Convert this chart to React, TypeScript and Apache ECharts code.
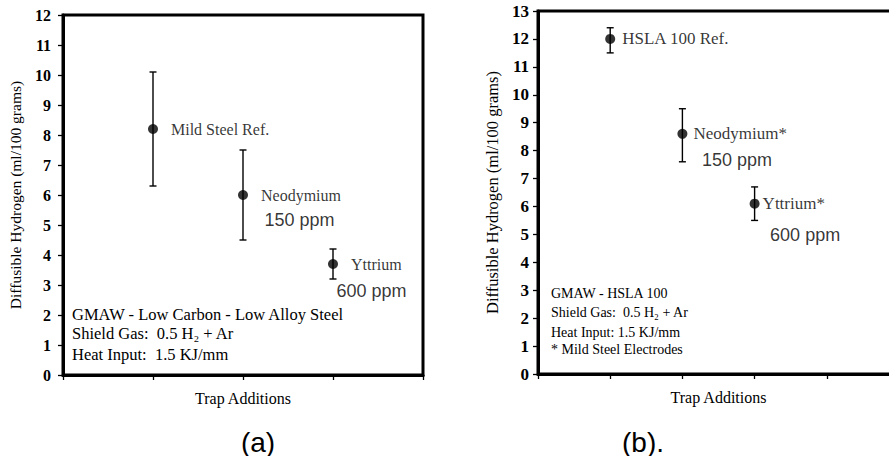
import React, { useEffect, useRef } from "react";
import * as echarts from "echarts";

// Panel (a): GMAW, low carbon - low alloy steel
const namesA = ["Mild Steel Ref.", "Neodymium", "Yttrium"];
const xA = [1, 2, 3];
const meanA = [8.2, 6.0, 3.7];
const lowA = [6.3, 4.5, 3.2];
const highA = [10.1, 7.5, 4.2];
const ppmA = ["", "150 ppm", "600 ppm"];
const notesA = [
  "GMAW - Low Carbon - Low Alloy Steel",
  "Shield Gas:  0.5 H\u2082 + Ar",
  "Heat Input:  1.5 KJ/mm",
];

// Panel (b): GMAW, HSLA 100
const namesB = ["HSLA 100 Ref.", "Neodymium*", "Yttrium*"];
const xB = [1, 2, 3];
const meanB = [12.0, 8.6, 6.1];
const lowB = [11.5, 7.6, 5.5];
const highB = [12.4, 9.5, 6.7];
const ppmB = ["", "150 ppm", "600 ppm"];
const notesB = [
  "GMAW - HSLA 100",
  "Shield Gas:  0.5 H\u2082 + Ar",
  "Heat Input: 1.5 KJ/mm",
  "* Mild Steel Electrodes",
];

const yTitle = "Diffusible Hydrogen (ml/100 grams)";
const xTitle = "Trap Additions";
const panelTags = ["(a)", "(b)."];

const SERIF = "Liberation Serif";
const SANS = "Liberation Sans";

// label gaps (px) between marker edge and name, and ppm offsets
const nameDistA = [13, 13, 13];
const nameDistB = [7, 6, 3];
const ppmOffA = [[0, 0], [22, 25], [4, 27]];
const ppmOffB = [[0, 0], [20, 27], [16, 32]];

function errorBarSeries(gridIdx: number, xs: number[], lows: number[], highs: number[]) {
  return {
    type: "custom",
    xAxisIndex: gridIdx,
    yAxisIndex: gridIdx,
    silent: true,
    data: xs.map((x, i) => [x, lows[i], highs[i]]),
    renderItem: (_p: any, api: any) => {
      const lo = api.coord([api.value(0), api.value(1)]);
      const hi = api.coord([api.value(0), api.value(2)]);
      const cap = 3.5;
      const style = { stroke: "#000", lineWidth: 1.4 };
      return {
        type: "group",
        children: [
          { type: "line", shape: { x1: lo[0], y1: lo[1], x2: hi[0], y2: hi[1] }, style },
          { type: "line", shape: { x1: hi[0] - cap, y1: hi[1], x2: hi[0] + cap, y2: hi[1] }, style },
          { type: "line", shape: { x1: lo[0] - cap, y1: lo[1], x2: lo[0] + cap, y2: lo[1] }, style },
        ],
      };
    },
    z: 3,
  };
}

function pointSeries(gridIdx: number, xs: number[], means: number[], names: string[], dists: number[], fontSize: number) {
  return {
    type: "scatter",
    xAxisIndex: gridIdx,
    yAxisIndex: gridIdx,
    symbol: "circle",
    symbolSize: 10,
    itemStyle: { color: "#000" },
    data: xs.map((x, i) => ({
      value: [x, means[i]],
      label: {
        show: true,
        position: "right",
        distance: dists[i],
        formatter: names[i],
        color: "#000",
        fontFamily: SERIF,
        fontSize,
      },
    })),
    z: 4,
  };
}

function ppmSeries(gridIdx: number, xs: number[], means: number[], ppm: string[], offs: number[][]) {
  const data: any[] = [];
  xs.forEach((x, i) => {
    if (!ppm[i]) return;
    data.push({
      value: [x, means[i]],
      label: {
        show: true,
        position: [offs[i][0], offs[i][1]],
        align: "left",
        verticalAlign: "middle",
        formatter: ppm[i],
        color: "#000",
        fontFamily: SANS,
        fontSize: 18,
      },
    });
  });
  return {
    type: "scatter",
    xAxisIndex: gridIdx,
    yAxisIndex: gridIdx,
    symbol: "circle",
    symbolSize: 1,
    itemStyle: { color: "transparent" },
    silent: true,
    data,
    z: 4,
  };
}

function xAxisCfg(gridIdx: number, max: number) {
  return {
    type: "value",
    gridIndex: gridIdx,
    min: 0,
    max,
    interval: 1,
    axisLine: { show: true, lineStyle: { color: "#000", width: 3 } },
    axisTick: { show: true, inside: false, length: 5, lineStyle: { color: "#000", width: 1.3 } },
    axisLabel: { show: false },
    splitLine: { show: false },
    name: xTitle,
    nameLocation: "middle",
    nameGap: 15,
    nameTextStyle: { color: "#000", fontFamily: SERIF, fontSize: 16 },
  };
}

function yAxisCfg(gridIdx: number, max: number, gap: number, labelMargin: number, labelSize: number, nameSize: number) {
  return {
    type: "value",
    gridIndex: gridIdx,
    min: 0,
    max,
    interval: 1,
    axisLine: { show: true, lineStyle: { color: "#000", width: 3 } },
    axisTick: { show: true, inside: false, length: 5, lineStyle: { color: "#000", width: 1.3 } },
    axisLabel: {
      show: true,
      margin: labelMargin,
      color: "#000",
      fontFamily: SERIF,
      fontWeight: "bold",
      fontSize: labelSize,
    },
    splitLine: { show: false },
    name: yTitle,
    nameLocation: "middle",
    nameGap: gap,
    nameRotate: 90,
    nameTextStyle: { color: "#000", fontFamily: SERIF, fontSize: nameSize },
  };
}

function noteTexts(lines: string[], x: number, ys: number[], fontSize: number) {
  return lines.map((t, i) => ({
    type: "text",
    left: x,
    top: ys[i] - fontSize / 2 - 1,
    style: { text: t, fill: "#000", font: `${fontSize}px ${SERIF}` },
    z: 10,
  }));
}

export default function App() {
  const ref = useRef<HTMLDivElement>(null);

  useEffect(() => {
    if (!ref.current) return;
    const chart = echarts.init(ref.current, null, { renderer: "svg" });
    chart.setOption({
      animation: false,
      backgroundColor: "#fff",
      textStyle: { fontFamily: SERIF },
      grid: [
        { left: 63, top: 15, width: 360, height: 360, show: true, borderColor: "#000", borderWidth: 3, backgroundColor: "transparent" },
        { left: 538, top: 11, width: 361, height: 363, show: true, borderColor: "#000", borderWidth: 3, backgroundColor: "transparent" },
      ],
      xAxis: [xAxisCfg(0, 4), xAxisCfg(1, 5)],
      yAxis: [yAxisCfg(0, 12, 40, 12, 16, 15.5), yAxisCfg(1, 13, 37, 9, 17, 16.5)],
      series: [
        errorBarSeries(0, xA, lowA, highA),
        pointSeries(0, xA, meanA, namesA, nameDistA, 16),
        ppmSeries(0, xA, meanA, ppmA, ppmOffA),
        errorBarSeries(1, xB, lowB, highB),
        pointSeries(1, xB, meanB, namesB, nameDistB, 17),
        ppmSeries(1, xB, meanB, ppmB, ppmOffB),
      ],
      graphic: [
        ...noteTexts(notesA, 72, [315, 334, 355], 16.5),
        ...noteTexts(notesB, 551, [294, 313, 333, 350], 14),
        {
          type: "text",
          x: 258,
          y: 442,
          style: { text: panelTags[0], fill: "#000", font: `28px ${SANS}`, align: "center", verticalAlign: "middle" },
        },
        {
          type: "text",
          x: 643,
          y: 442,
          style: { text: panelTags[1], fill: "#000", font: `28px ${SANS}`, align: "center", verticalAlign: "middle" },
        },
      ],
    });
    return () => chart.dispose();
  }, []);

  return (
    <div style={{ position: "fixed", left: 0, top: 0, width: 889, height: 456, background: "#fff", overflow: "hidden" }}>
      <div ref={ref} style={{ width: 920, height: 456 }} />
    </div>
  );
}
